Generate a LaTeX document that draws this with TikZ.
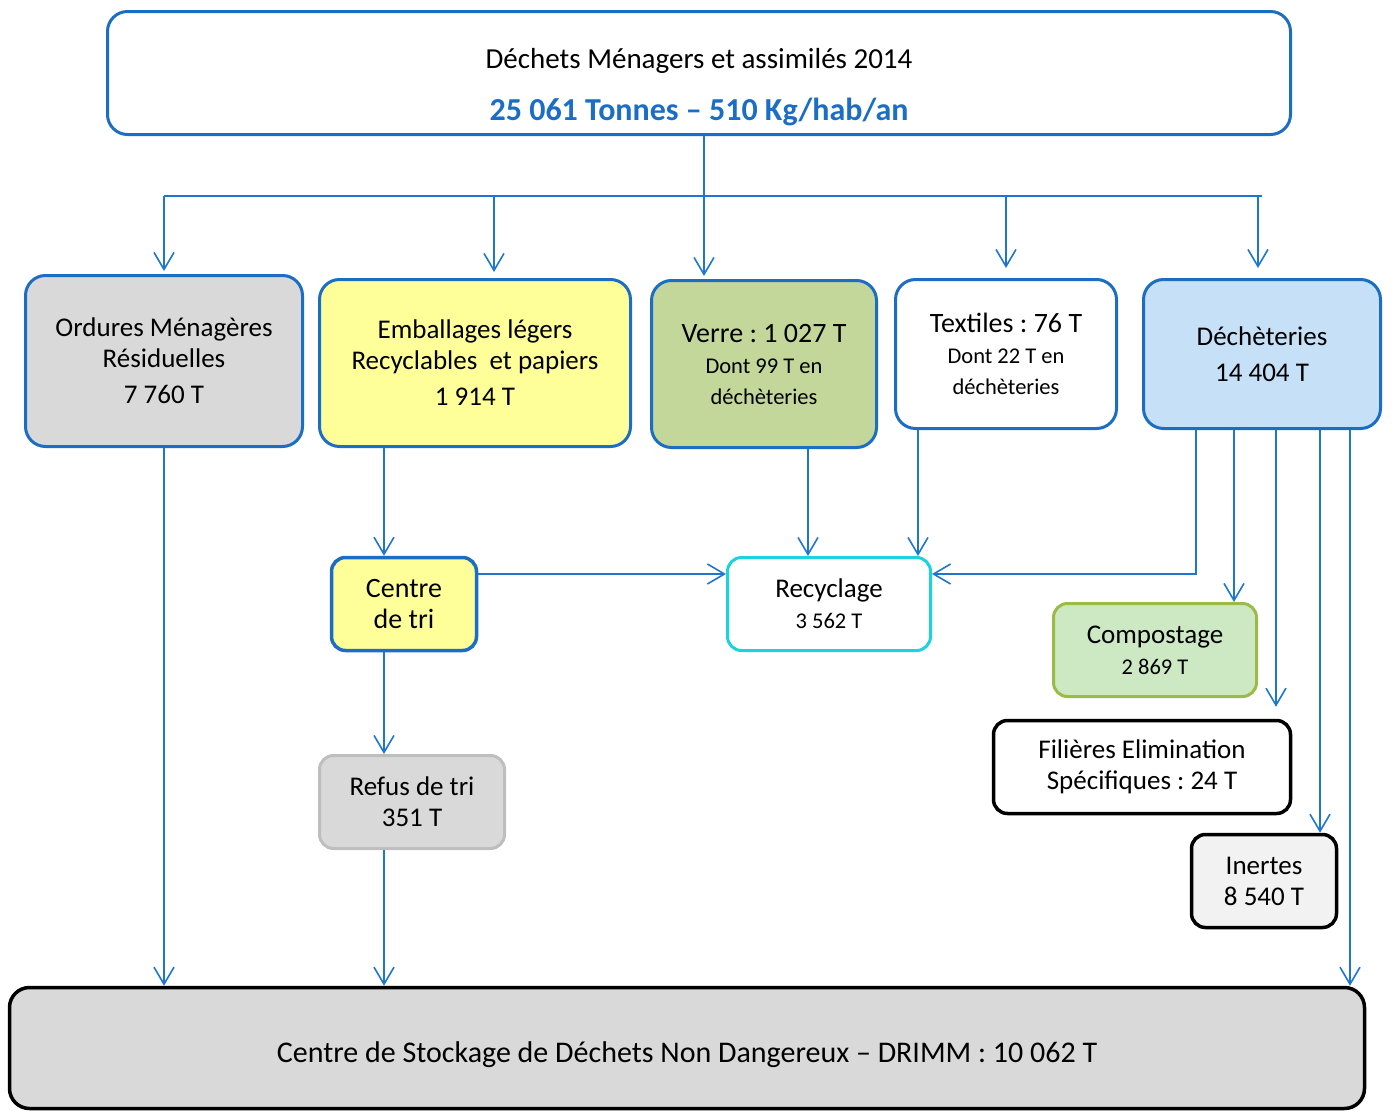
\documentclass[tikz,border=0pt]{standalone}
\usepackage{fontspec}
\setmainfont{Carlito}
\usepackage{xcolor}
\usetikzlibrary{arrows.meta,positioning}
\frenchspacing

\definecolor{boxblue}{RGB}{27,110,196}
\definecolor{linkblue}{RGB}{30,118,208}
\definecolor{omrgray}{RGB}{217,217,217}
\definecolor{embyellow}{RGB}{255,255,153}
\definecolor{verregreen}{RGB}{196,215,155}
\definecolor{dechblue}{RGB}{198,224,248}
\definecolor{recycyan}{RGB}{28,210,222}
\definecolor{compfill}{RGB}{205,233,196}
\definecolor{compline}{RGB}{155,187,70}
\definecolor{refusline}{RGB}{190,190,190}
\definecolor{inertfill}{RGB}{242,242,242}

\newcommand{\bigtxt}{\fontsize{27}{31}\selectfont}
\newcommand{\midtxt}{\fontsize{28}{32}\selectfont}
\newcommand{\smalltxt}{\fontsize{22.5}{30}\selectfont}

\begin{document}
\begin{tikzpicture}[x=1pt,y=-1pt,
    box/.style={draw=boxblue,line width=3pt,rounded corners=20pt,align=center,inner sep=0pt,font=\bigtxt},
    smallbox/.style={box,rounded corners=14pt},
    link/.style={linkblue,line width=1.6pt,-{Straight Barb[length=17pt,width=20pt]}},
    bus/.style={linkblue,line width=1.6pt}]
    \useasboundingbox (0,0) rectangle (1393,1111);

    %top
    \node[box,minimum width=1183pt,minimum height=123pt] (top) at (699,73) {};
    \node[align=center,font=\fontsize{29}{33}\selectfont] (toptext) at (699,87)
        {Déchets Ménagers et assimilés 2014\\[19pt]
         \fontsize{32}{36}\selectfont\bfseries\color{boxblue}25 061 Tonnes -- 510 Kg/hab/an};

    %level 1
    \node[box,fill=omrgray,minimum width=277pt,minimum height=171pt] (omr) at (164,361)
        {Ordures Ménagères\\Résiduelles\\[5pt]7 760 T};
    \node[box,fill=embyellow,minimum width=311pt,minimum height=167pt] (emb) at (475,363)
        {Emballages légers\\Recyclables\ \ et papiers\\[5pt]1 914 T};
    \node[box,fill=verregreen,minimum width=225pt,minimum height=167pt] (verre) at (764,364)
        {\midtxt Verre : 1 027 T\\\smalltxt Dont 99 T en\\\smalltxt déchèteries};
    \node[box,fill=white,minimum width=221pt,minimum height=149pt] (text) at (1006,354)
        {\midtxt Textiles : 76 T\\\smalltxt Dont 22 T en\\\smalltxt déchèteries};
    \node[box,fill=dechblue,minimum width=237pt,minimum height=149pt] (dech) at (1262,354)
        {Déchèteries\\[5pt]14 404 T};

    %level 2
    \node[smallbox,fill=embyellow,line width=3.5pt,minimum width=145pt,minimum height=93pt] (tri) at (404,604)
        {\midtxt Centre\\\midtxt de tri};
    \node[smallbox,draw=recycyan,fill=white,minimum width=203pt,minimum height=93pt] (rec) at (829,604)
        {Recyclage\\\smalltxt 3 562 T};
    \node[smallbox,draw=compline,fill=compfill,minimum width=203pt,minimum height=93pt] (comp) at (1155,650)
        {Compostage\\\smalltxt 2 869 T};

    %level 3
    \node[smallbox,draw=black,fill=white,line width=3.5pt,minimum width=297pt,minimum height=93pt] (fil) at (1142,767)
        {Filières Elimination\\Spécifiques : 24 T};
    \node[smallbox,draw=refusline,fill=omrgray,minimum width=185pt,minimum height=93pt] (ref) at (412,802)
        {Refus de tri\\351 T};
    \node[smallbox,draw=black,fill=inertfill,line width=3.5pt,minimum width=145pt,minimum height=93pt] (ine) at (1264,881)
        {Inertes\\8 540 T};

    %level 4
    \node[box,draw=black,fill=omrgray,line width=3.5pt,minimum width=1355pt,minimum height=121pt,
        font=\fontsize{30}{34}\selectfont,text height=34pt,text depth=6pt] (cs) at (687,1048)
        {Centre de Stockage de Déchets Non Dangereux -- DRIMM : 10 062 T};

    \coordinate (split) at (704,196);
    \coordinate (trix) at (384,500);
    \coordinate (recy) at (700,574);

    %top to level 1
    \draw[link,shorten >=3pt] ([xshift=5pt]top.south) -- (split |- verre.north);
    \draw[bus] (omr.north |- split) -- (dech.north |- split);
    \draw[link,shorten >=3pt] (omr.north |- split) -- (omr.north);
    \draw[link,shorten >=6pt] ([xshift=19pt]emb.north |- split) -- ([xshift=19pt]emb.north);
    \draw[link,shorten >=10pt] (text.north |- split) -- (text.north);
    \draw[link,shorten >=10pt] ([xshift=-4pt]dech.north |- split) -- ([xshift=-4pt]dech.north);

    %level 1 down
    \draw[link] (omr.south) -- (omr.south |- cs.north);
    \draw[link] (emb.south -| trix) -- (tri.north -| trix);
    \draw[link] ([xshift=44pt]verre.south) -- ([xshift=44pt]verre.south |- rec.north);
    \draw[link] ([xshift=-88pt]text.south) -- ([xshift=-88pt]text.south |- rec.north);

    %dechetteries
    \draw[link] ([xshift=-66pt]dech.south) |- (rec.east |- recy);
    \draw[link] ([xshift=-28pt]dech.south) -- ([xshift=-28pt]dech.south |- comp.north);
    \draw[link,shorten >=12pt] ([xshift=14pt]dech.south) -- ([xshift=14pt]dech.south |- fil.north);
    \draw[link] ([xshift=58pt]dech.south) -- ([xshift=58pt]dech.south |- ine.north);
    \draw[link] ([xshift=88pt]dech.south) -- ([xshift=88pt]dech.south |- cs.north);

    %centre de tri
    \draw[link] (tri.east |- recy) -- (rec.west |- recy);
    \draw[link] (tri.south -| trix) -- (ref.north -| trix);
    \draw[link] (ref.south -| trix) -- (cs.north -| trix);
\end{tikzpicture}
\end{document}
